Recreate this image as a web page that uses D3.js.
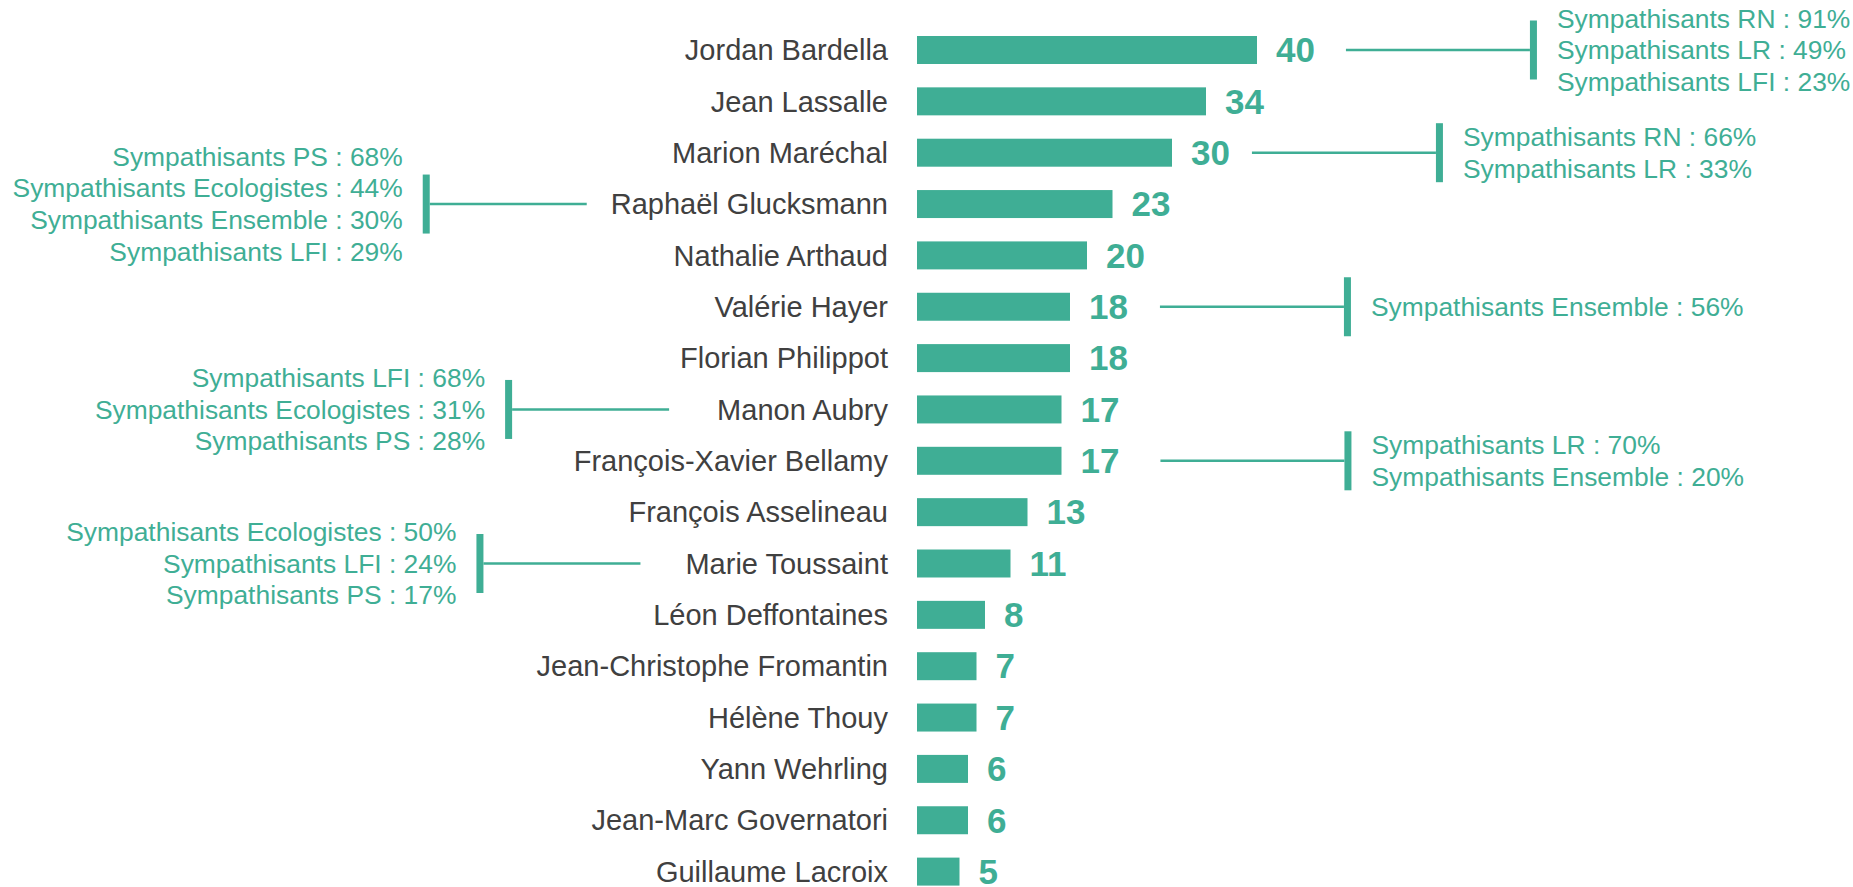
<!DOCTYPE html>
<html>
<head>
<meta charset="utf-8">
<script src="https://cdn.jsdelivr.net/npm/d3@7"></script>
<style>
  html, body { margin: 0; padding: 0; background: #fff; }
  svg { display: block; }
</style>
</head>
<body>
<script>
// ---- data ----
const candidates = [
  "Jordan Bardella", "Jean Lassalle", "Marion Maréchal", "Raphaël Glucksmann",
  "Nathalie Arthaud", "Valérie Hayer", "Florian Philippot", "Manon Aubry",
  "François-Xavier Bellamy", "François Asselineau", "Marie Toussaint",
  "Léon Deffontaines", "Jean-Christophe Fromantin", "Hélène Thouy",
  "Yann Wehrling", "Jean-Marc Governatori", "Guillaume Lacroix"
];
const scores = [40, 34, 30, 23, 20, 18, 18, 17, 17, 13, 11, 8, 7, 7, 6, 6, 5];

const annotationNames = ["Jordan Bardella", "Marion Maréchal", "Raphaël Glucksmann",
  "Valérie Hayer", "Manon Aubry", "François-Xavier Bellamy", "Marie Toussaint"];
const annotationSides = ["right", "right", "left", "right", "left", "right", "left"];
const annotationLines = [
  ["Sympathisants RN : 91%", "Sympathisants LR : 49%", "Sympathisants LFI : 23%"],
  ["Sympathisants RN : 66%", "Sympathisants LR : 33%"],
  ["Sympathisants PS : 68%", "Sympathisants Ecologistes : 44%", "Sympathisants Ensemble : 30%", "Sympathisants LFI : 29%"],
  ["Sympathisants Ensemble : 56%"],
  ["Sympathisants LFI : 68%", "Sympathisants Ecologistes : 31%", "Sympathisants PS : 28%"],
  ["Sympathisants LR : 70%", "Sympathisants Ensemble : 20%"],
  ["Sympathisants Ecologistes : 50%", "Sympathisants LFI : 24%", "Sympathisants PS : 17%"]
];
// layout only: gap between label and connector start (px)
const annotationGaps = [31, 22, 24, 32, 48, 41, 45];

// ---- layout ----
const W = 1853, H = 887;
const teal = "#3fae95";
const nameColor = "#404040";
const font = "'Liberation Sans', Arial, Helvetica, sans-serif";

const svg = d3.select("body").append("svg").attr("width", W).attr("height", H);

const x = d3.scaleLinear().domain([0, 40]).range([917, 1257]);
const step = 51.35;
const y = d3.scaleBand().domain(candidates)
  .range([50 - step / 2, 50 + 16 * step + step / 2])
  .paddingInner(0.455).paddingOuter(0.2275);

const data = candidates.map((c, i) => ({ name: c, value: scores[i] }));

// bars
svg.append("g").selectAll("rect").data(data).join("rect")
  .attr("x", x(0))
  .attr("y", d => y(d.name))
  .attr("width", d => x(d.value) - x(0))
  .attr("height", y.bandwidth())
  .attr("fill", teal);

// name labels (axis-like)
const nameLabels = svg.append("g").selectAll("text").data(data).join("text")
  .attr("x", x(0) - 29)
  .attr("y", d => y(d.name) + y.bandwidth() / 2)
  .attr("dy", "0.35em")
  .attr("text-anchor", "end")
  .attr("font-family", font)
  .attr("font-size", 29)
  .attr("fill", nameColor)
  .text(d => d.name);

// value labels
const valueLabels = svg.append("g").selectAll("text").data(data).join("text")
  .attr("x", d => x(d.value) + 19)
  .attr("y", d => y(d.name) + y.bandwidth() / 2)
  .attr("dy", "0.35em")
  .attr("font-family", font)
  .attr("font-size", 35)
  .attr("font-weight", "bold")
  .attr("fill", teal)
  .text(d => d.value);

const nameNode = {}, valueNode = {};
nameLabels.each(function (d) { nameNode[d.name] = this; });
valueLabels.each(function (d) { valueNode[d.name] = this; });

// annotations
const lineLen = 184, barW = 7, barH = 59, textGap = 20, lineH = 31.7, annSize = 26.4;
const ag = svg.append("g");
annotationNames.forEach((nm, i) => {
  const cy = y(nm) + y.bandwidth() / 2;
  const side = annotationSides[i];
  const lines = annotationLines[i];
  let x1, x2, vx, tx, anchor;
  if (side === "right") {
    const vn = valueNode[nm];
    const end = +vn.getAttribute("x") + vn.getComputedTextLength();
    x1 = end + annotationGaps[i];
    x2 = x1 + lineLen;
    vx = x2;
    tx = vx + barW + textGap;
    anchor = "start";
  } else {
    const nn = nameNode[nm];
    const start = +nn.getAttribute("x") - nn.getComputedTextLength();
    x2 = start - annotationGaps[i];
    x1 = x2 - 157;
    vx = x1 - barW;
    tx = vx - textGap;
    anchor = "end";
  }
  ag.append("line")
    .attr("x1", x1).attr("x2", x2).attr("y1", cy).attr("y2", cy)
    .attr("stroke", teal).attr("stroke-width", 2.5);
  ag.append("rect")
    .attr("x", vx).attr("y", cy - barH / 2).attr("width", barW).attr("height", barH)
    .attr("fill", teal);
  const t = ag.append("text")
    .attr("font-family", font).attr("font-size", annSize).attr("fill", teal)
    .attr("text-anchor", anchor);
  lines.forEach((ln, j) => {
    t.append("tspan")
      .attr("x", tx)
      .attr("y", cy + (j - (lines.length - 1) / 2) * lineH)
      .attr("dy", "0.35em")
      .text(ln);
  });
});
</script>
</body>
</html>
